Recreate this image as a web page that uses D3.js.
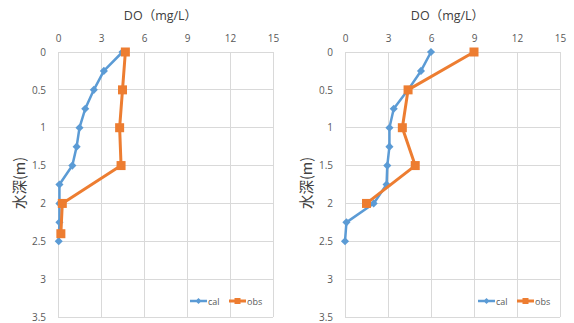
<!DOCTYPE html>
<html><head><meta charset="utf-8">
<script src="https://cdn.jsdelivr.net/npm/d3@7"></script>
<style>body{margin:0;background:#fff;}svg{display:block;font-family:"Open Sans","Noto Sans CJK JP",sans-serif;}</style>
</head><body>
<svg id="c" width="574" height="323"></svg>
<script>
const xTicks = [0, 3, 6, 9, 12, 15];
const yTicks = [0, 0.5, 1, 1.5, 2, 2.5, 3, 3.5];
const seriesNames = ["cal", "obs"];
const xTitle = "DO（mg/L）";
const yTitle = "水深(m)";

// Left chart
const leftCalDepth = [0, 0.25, 0.5, 0.75, 1.0, 1.25, 1.5, 1.75, 2.0, 2.25, 2.5];
const leftCalDO    = [4.5, 3.2, 2.5, 1.9, 1.5, 1.3, 1.0, 0.1, 0.1, 0.1, 0.05];
const leftObsDepth = [0, 0.5, 1.0, 1.5, 2.0, 2.4];
const leftObsDO    = [4.7, 4.5, 4.3, 4.4, 0.3, 0.2];

// Right chart
const rightCalDepth = [0, 0.25, 0.5, 0.75, 1.0, 1.25, 1.5, 1.75, 2.0, 2.25, 2.5];
const rightCalDO    = [6.0, 5.3, 4.4, 3.4, 3.1, 3.1, 2.95, 2.9, 2.0, 0.1, 0.0];
const rightObsDepth = [0, 0.5, 1.0, 1.5, 2.0];
const rightObsDO    = [9.0, 4.4, 4.0, 4.9, 1.5];

const colors = {cal: "#5B9BD5", obs: "#ED7D31"};
const svg = d3.select("#c");

function drawChart(left, cal, obs, legendX) {
  const right = left + 215, top = 52, bottom = 317;
  const x = d3.scaleLinear().domain([0, 15]).range([left, right]);
  const y = d3.scaleLinear().domain([0, 3.5]).range([top, bottom]);
  const g = svg.append("g");

  // grid
  g.selectAll(".vg").data(xTicks).join("line")
    .attr("x1", d => x(d)).attr("x2", d => x(d)).attr("y1", top).attr("y2", bottom)
    .attr("stroke", "#d9d9d9").attr("stroke-width", 1).attr("shape-rendering", "crispEdges");
  g.selectAll(".hg").data(yTicks).join("line")
    .attr("x1", left).attr("x2", right).attr("y1", d => y(d)).attr("y2", d => y(d))
    .attr("stroke", "#d9d9d9").attr("stroke-width", 1).attr("shape-rendering", "crispEdges");

  // axes (labels only)
  const xa = g.append("g").attr("transform", `translate(0,${top - 10})`)
    .call(d3.axisTop(x).tickValues(xTicks).tickSize(0).tickPadding(0));
  xa.select(".domain").remove();
  xa.selectAll("text").attr("font-size", 10).attr("fill", "#595959").attr("font-family", "Open Sans, sans-serif");

  const ya = g.append("g").attr("transform", `translate(${left - 12},0)`)
    .call(d3.axisLeft(y).tickValues(yTicks).tickFormat(d => String(d)).tickSize(0).tickPadding(0));
  ya.select(".domain").remove();
  ya.selectAll("text").attr("font-size", 10).attr("fill", "#595959").attr("font-family", "Open Sans, sans-serif");

  // titles
  g.append("text").attr("x", (left + right) / 2 - 5).attr("y", 20)
    .attr("text-anchor", "middle").attr("font-size", 12.5).attr("fill", "#404040")
    .attr("font-family", "Open Sans, Noto Sans CJK JP, sans-serif").text(xTitle);
  g.append("text").attr("transform", `translate(${left - 33},183) rotate(-90)`)
    .attr("text-anchor", "middle").attr("font-size", 14.5).attr("fill", "#404040")
    .attr("font-family", "Noto Sans CJK JP, sans-serif").text(yTitle);

  const line = d3.line().x(d => x(d[1])).y(d => y(d[0]));
  const calPts = cal[0].map((d, i) => [d, cal[1][i]]);
  const obsPts = obs[0].map((d, i) => [d, obs[1][i]]);

  g.append("path").datum(calPts).attr("d", line).attr("fill", "none")
    .attr("stroke", colors.cal).attr("stroke-width", 2.5).attr("stroke-linejoin", "round");
  g.selectAll(".cm").data(calPts).join("path")
    .attr("d", d3.symbol(d3.symbolDiamond2, 42))
    .attr("transform", d => `translate(${x(d[1])},${y(d[0])})`)
    .attr("fill", colors.cal);

  g.append("path").datum(obsPts).attr("d", line).attr("fill", "none")
    .attr("stroke", colors.obs).attr("stroke-width", 3).attr("stroke-linejoin", "round");
  g.selectAll(".om").data(obsPts).join("rect")
    .attr("x", d => x(d[1]) - 4.5).attr("y", d => y(d[0]) - 4.5)
    .attr("width", 9).attr("height", 9).attr("fill", colors.obs);

  // legend
  const ly = 301;
  seriesNames.forEach((name, i) => {
    const lx = legendX + i * 39;
    g.append("line").attr("x1", lx).attr("x2", lx + 17).attr("y1", ly).attr("y2", ly)
      .attr("stroke", colors[name]).attr("stroke-width", name === "obs" ? 3 : 2.5);
    if (name === "cal") {
      g.append("path").attr("d", d3.symbol(d3.symbolDiamond2, 22))
        .attr("transform", `translate(${lx + 8.5},${ly})`).attr("fill", colors[name]);
    } else {
      g.append("rect").attr("x", lx + 5.5).attr("y", ly - 3).attr("width", 6).attr("height", 6).attr("fill", colors[name]);
    }
    g.append("text").attr("x", lx + 18).attr("y", ly + 3.5).attr("font-size", 9)
      .attr("fill", "#595959").attr("font-family", "Open Sans, sans-serif").text(name);
  });
}

drawChart(58, [leftCalDepth, leftCalDO], [leftObsDepth, leftObsDO], 190);
drawChart(345, [rightCalDepth, rightCalDO], [rightObsDepth, rightObsDO], 478);
</script>
</body></html>
